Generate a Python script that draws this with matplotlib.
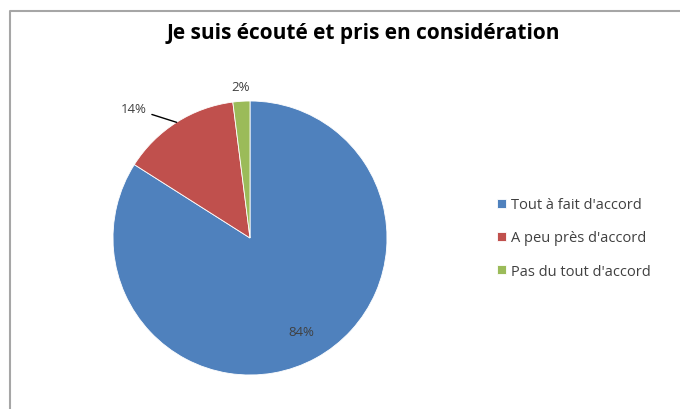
import matplotlib.pyplot as plt
import numpy as np
from matplotlib.lines import Line2D

categories = ["Tout à fait d'accord", "A peu près d'accord", "Pas du tout d'accord"]
values = [84, 14, 2]
colors = ['#4F81BD', '#C0504D', '#9BBB59']

W, H = 680, 410
fig = plt.figure(figsize=(W / 100, H / 100), dpi=100)
plt.rcParams['font.family'] = ['Open Sans', 'DejaVu Sans']

# cadre gris (bords gauche et haut seulement visibles)
fig.add_artist(Line2D([10 / W, 10 / W, 1], [0, 1 - 12 / H, 1 - 12 / H],
                      transform=fig.transFigure, color='#A6A6A6', lw=1.5))

cx, cy, r = 250, 239, 137
ax = fig.add_axes([(cx - r) / W, (H - cy - r) / H, 2 * r / W, 2 * r / H])
wedges, _ = ax.pie(values, colors=colors, startangle=90, counterclock=False,
                   radius=1, wedgeprops=dict(edgecolor='white', linewidth=0.6))
ax.set_xlim(-1, 1)
ax.set_ylim(-1, 1)
ax.set_axis_off()

# étiquettes de pourcentage
for w, v in zip(wedges, values):
    mid = np.deg2rad((w.theta1 + w.theta2) / 2)
    ex, ey = np.cos(mid), np.sin(mid)
    lab = '%d%%' % v
    if v > 50:
        ax.text(0.775 * ex, 0.775 * ey, lab, ha='center', va='center',
                fontsize=9.5, color='#404040')
    elif v > 5:
        ax.annotate(lab, xy=(ex, ey), xytext=(ex - 0.22, ey + 0.1),
                    ha='right', va='center', fontsize=9.5, color='#404040',
                    annotation_clip=False,
                    arrowprops=dict(arrowstyle='-', color='black', lw=1,
                                    shrinkA=2, shrinkB=0))
    else:
        ax.text(1.1 * ex, 1.11 * ey, lab, ha='center', va='center',
                fontsize=9.5, color='#404040')

fig.text(363 / W, 1 - 33 / H, 'Je suis écouté et pris en considération',
         ha='center', va='center', fontsize=15, fontweight='bold',
         color='black')

fig.legend(wedges, categories, loc='center left',
           bbox_to_anchor=(484 / W, 1 - 239 / H), frameon=False,
           fontsize=10.5, handlelength=0.6, handleheight=0.6,
           handletextpad=0.35, labelspacing=1.25, labelcolor='#404040')

fig.savefig('out.png', dpi=100)
